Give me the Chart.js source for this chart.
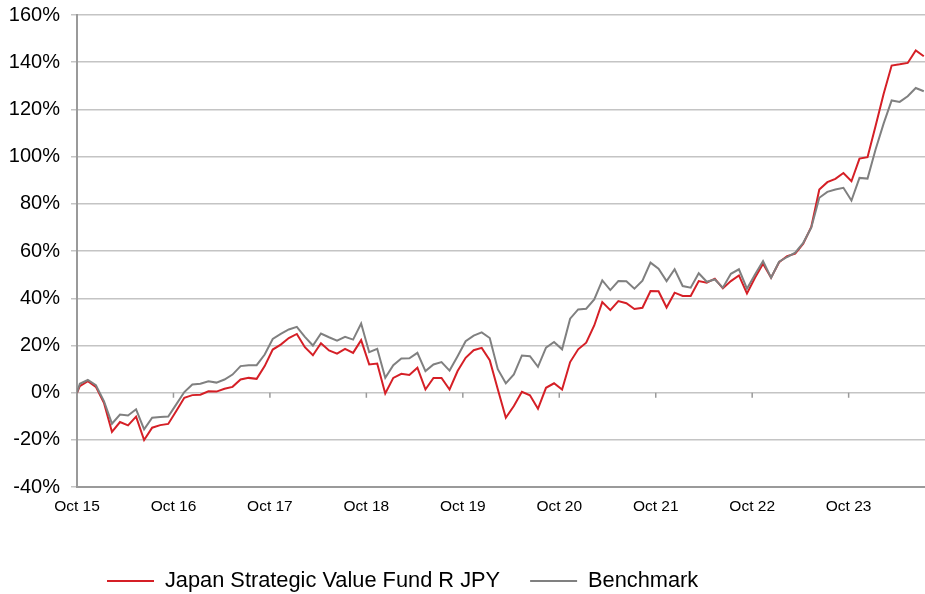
<!DOCTYPE html>
<html>
<head>
<meta charset="utf-8">
<script src="https://cdn.jsdelivr.net/npm/chart.js@4.4.1/dist/chart.umd.min.js"></script>
<style>
  html, body { margin: 0; padding: 0; background: #fff; overflow: hidden; }
</style>
</head>
<body>
<canvas id="perfChart" width="925" height="594"></canvas>
<script>
// year labels on the x axis, one per October
const yearLabels = ['Oct 15', 'Oct 16', 'Oct 17', 'Oct 18', 'Oct 19', 'Oct 20', 'Oct 21', 'Oct 22', 'Oct 23'];
const fundName = 'Japan Strategic Value Fund R JPY';
const benchName = 'Benchmark';

// cumulative performance in %, month ends from Oct 15
const fund = [
  2.8, 4.9, 2.5, -4.2, -16.6, -12.4, -13.8, -10.1, -20.0, -14.8, -13.7, -13.2,
  -7.7, -2.1, -1.0, -0.8, 0.6, 0.5, 1.7, 2.5, 5.6, 6.3, 5.9, 11.3,
  18.3, 20.4, 23.2, 24.9, 19.3, 15.9, 21.0, 17.9, 16.6, 18.6, 16.9, 22.3,
  12.0, 12.4, -0.3, 6.3, 8.0, 7.5, 10.6, 1.4, 6.3, 6.3, 1.4, 9.2,
  14.8, 18.0, 19.0, 13.8, 1.5, -10.6, -5.6, 0.4, -1.1, -6.8, 2.1, 4.0,
  1.4, 13.0, 18.4, 21.2, 28.5, 38.4, 35.0, 38.8, 37.9, 35.5, 36.0, 43.1,
  43.0, 36.1, 42.4, 41.0, 41.0, 47.3, 46.6, 48.3, 44.2, 47.3, 49.7, 42.1,
  48.7, 54.6, 48.7, 55.3, 57.9, 58.9, 63.1, 70.2, 86.1, 89.2, 90.6, 93.1,
  89.6, 99.2, 99.8, 113.0, 126.5, 138.6, 139.1, 139.7, 145.0, 142.5
];
const benchmark = [
  3.8, 5.4, 3.2, -3.5, -13.1, -9.2, -9.6, -7.0, -15.5, -10.6, -10.3, -10.1,
  -4.9, 0.3, 3.5, 3.8, 4.9, 4.3, 5.6, 7.7, 11.3, 11.7, 11.7, 16.2,
  22.8, 24.9, 26.8, 27.9, 23.7, 20.0, 25.1, 23.5, 22.1, 23.7, 22.5, 29.3,
  17.2, 18.6, 6.3, 11.7, 14.5, 14.6, 16.9, 9.2, 12.0, 13.0, 9.4, 15.5,
  21.8, 24.2, 25.6, 23.2, 10.0, 4.0, 7.8, 15.8, 15.5, 11.0, 19.1, 21.5,
  18.4, 31.4, 35.3, 35.6, 39.5, 47.6, 43.5, 47.3, 47.2, 44.1, 47.5, 55.1,
  52.5, 47.3, 52.3, 45.2, 44.5, 50.6, 47.0, 48.0, 44.5, 50.4, 52.3, 44.1,
  50.1, 55.8, 48.7, 55.5, 57.5, 59.3, 63.5, 69.9, 82.6, 85.1, 86.1, 86.8,
  81.4, 91.0, 90.7, 103.0, 114.0, 123.8, 123.2, 125.6, 129.1, 127.7
];

// series start at 0 at launch, first month end comes a bit after the axis
const firstMonthOffset = 0.35;
function toPoints(values) {
  const pts = [{ x: 0, y: 0 }];
  values.forEach((v, i) => pts.push({ x: i + firstMonthOffset, y: v }));
  return pts;
}

const red = '#d51f26';
const grey = '#808080';
const gridGrey = '#c4c4c4';
const axisGrey = '#9a9a9a';
const font = 'Liberation Sans';

// little tick marks sitting on the 0% line, like the original
const zeroTicks = {
  id: 'zeroTicks',
  beforeDatasetsDraw(chart) {
    const { ctx, scales: { x, y } } = chart;
    const y0 = y.getPixelForValue(0);
    ctx.save();
    ctx.strokeStyle = axisGrey;
    ctx.lineWidth = 1.5;
    x.ticks.forEach(t => {
      if (t.value === 0) return;
      const px = x.getPixelForValue(t.value);
      ctx.beginPath();
      ctx.moveTo(px, y0);
      ctx.lineTo(px, y0 + 5);
      ctx.stroke();
    });
    ctx.restore();
  }
};

new Chart(document.getElementById('perfChart'), {
  type: 'line',
  data: {
    datasets: [
      {
        label: fundName,
        data: toPoints(fund),
        borderColor: red,
        backgroundColor: red,
        borderWidth: 2,
        pointRadius: 0,
        tension: 0,
        order: 1
      },
      {
        label: benchName,
        data: toPoints(benchmark),
        borderColor: grey,
        backgroundColor: grey,
        borderWidth: 2,
        pointRadius: 0,
        tension: 0,
        order: 0
      }
    ]
  },
  options: {
    responsive: false,
    animation: false,
    devicePixelRatio: 1,
    layout: { padding: { top: 15, bottom: -8, left: 0, right: 0 } },
    plugins: {
      tooltip: { enabled: false },
      legend: {
        position: 'bottom',
        align: 'start',
        fullSize: false,
        labels: {
          boxWidth: 47,
          boxHeight: 0,
          padding: 30,
          color: '#000',
          font: { family: font, size: 21.8 },
          sort: (a, b) => a.datasetIndex - b.datasetIndex
        }
      }
    },
    scales: {
      x: {
        type: 'linear',
        min: 0,
        max: 105.5,
        afterBuildTicks: scale => {
          scale.ticks = yearLabels.map((_, k) => ({ value: k * 12 }));
        },
        afterFit: scale => { scale.height = 53; },
        grid: { display: false, drawTicks: false },
        border: { display: true, color: axisGrey, width: 2 },
        ticks: {
          autoSkip: false,
          maxRotation: 0,
          padding: 10,
          color: '#000',
          font: { family: font, size: 15.5 },
          callback: (value, index) => yearLabels[index]
        }
      },
      y: {
        min: -40,
        max: 160,
        afterFit: scale => {
          scale.width = 77;
          scale.paddingTop = 0;
          scale.paddingBottom = 0;
        },
        grid: { color: gridGrey, lineWidth: 1.5, tickLength: 6 },
        border: { display: true, color: axisGrey, width: 2 },
        ticks: {
          stepSize: 20,
          padding: 11,
          color: '#000',
          font: { family: font, size: 20 },
          callback: v => v + '%'
        }
      }
    }
  },
  plugins: [zeroTicks]
});
</script>
</body>
</html>
